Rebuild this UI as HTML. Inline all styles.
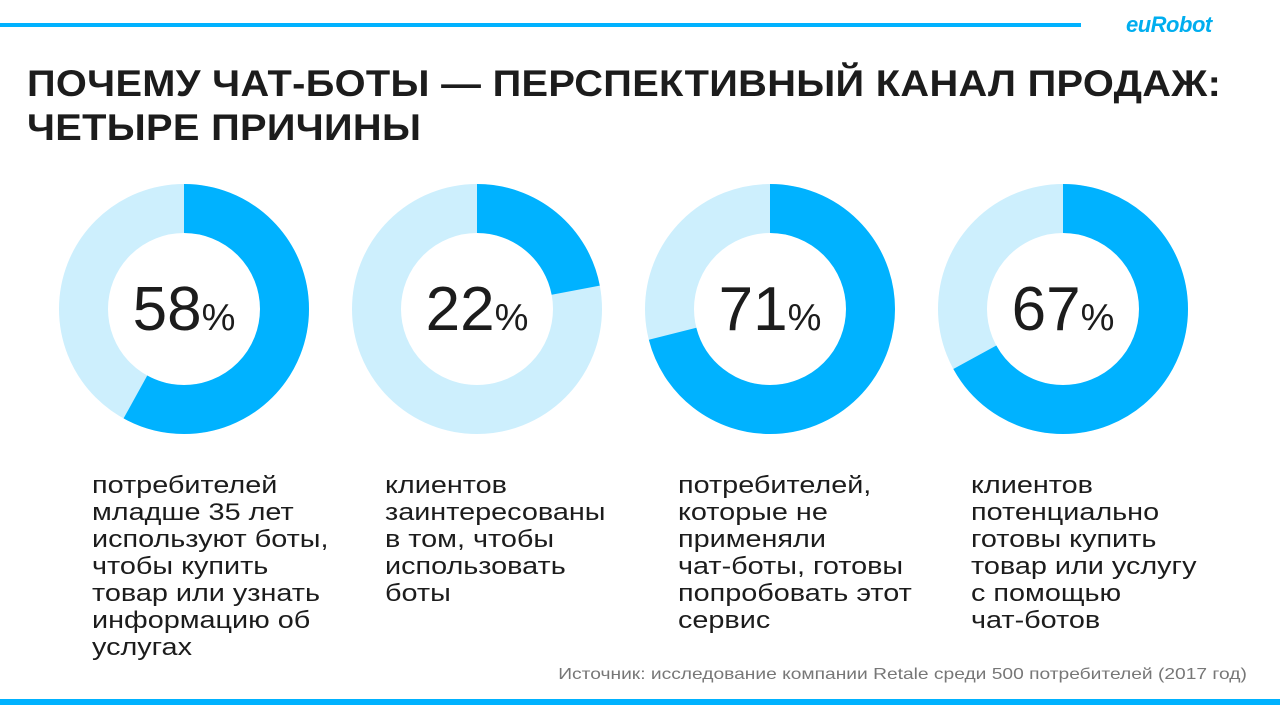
<!DOCTYPE html>
<html><head><meta charset="utf-8"><style>
body{margin:0;width:1280px;height:720px;background:#fff;position:relative;overflow:hidden;font-family:"Liberation Sans",sans-serif;color:#1c1c1c}
.bar{position:absolute;background:#00b2ff}
h1{position:absolute;left:27px;top:62px;margin:0;font-size:37px;line-height:44px;font-weight:bold;letter-spacing:0.3px;transform:scaleX(1.075);transform-origin:left top;white-space:nowrap}
.desc{position:absolute;top:472px;font-size:24px;line-height:27px;color:#1c1c1c;transform:scaleX(1.2);transform-origin:left top;white-space:nowrap}
.src{position:absolute;right:33px;top:666px;font-size:16px;color:#777;transform:scaleX(1.2);transform-origin:right top;white-space:nowrap}
.logo{position:absolute;left:1126px;top:12px;font-size:22px;font-weight:bold;color:#00aeef;font-style:italic;letter-spacing:-0.5px}
</style></head><body>
<div class="bar" style="left:0;top:23px;width:1081px;height:4px"></div>
<div class="bar" style="left:0;top:699px;width:1280px;height:6px"></div>
<div class="logo">euRobot</div>
<h1>ПОЧЕМУ ЧАТ-БОТЫ — ПЕРСПЕКТИВНЫЙ КАНАЛ ПРОДАЖ:<br>ЧЕТЫРЕ ПРИЧИНЫ</h1>
<svg width="1280" height="720" style="position:absolute;left:0;top:0" font-family="Liberation Sans, sans-serif">
<g fill="none" stroke-width="49">
<circle cx="184" cy="309" r="100.5" stroke="#cdeffd"/>
<circle cx="184" cy="309" r="100.5" stroke="#00b2ff" stroke-dasharray="366.3 1000" transform="rotate(-90 184 309)"/>
<circle cx="477" cy="309" r="100.5" stroke="#cdeffd"/>
<circle cx="477" cy="309" r="100.5" stroke="#00b2ff" stroke-dasharray="138.9 1000" transform="rotate(-90 477 309)"/>
<circle cx="770" cy="309" r="100.5" stroke="#cdeffd"/>
<circle cx="770" cy="309" r="100.5" stroke="#00b2ff" stroke-dasharray="448.4 1000" transform="rotate(-90 770 309)"/>
<circle cx="1063" cy="309" r="100.5" stroke="#cdeffd"/>
<circle cx="1063" cy="309" r="100.5" stroke="#00b2ff" stroke-dasharray="423.1 1000" transform="rotate(-90 1063 309)"/>
</g>
<g fill="#1c1c1c" text-anchor="middle">
<text x="184" y="330"><tspan font-size="62">58</tspan><tspan font-size="38">%</tspan></text>
<text x="477" y="330"><tspan font-size="62">22</tspan><tspan font-size="38">%</tspan></text>
<text x="770" y="330"><tspan font-size="62">71</tspan><tspan font-size="38">%</tspan></text>
<text x="1063" y="330"><tspan font-size="62">67</tspan><tspan font-size="38">%</tspan></text>
</g>
</svg>
<div class="desc" style="left:92px">потребителей<br>младше 35 лет<br>используют боты,<br>чтобы купить<br>товар или узнать<br>информацию об<br>услугах</div>
<div class="desc" style="left:385px">клиентов<br>заинтересованы<br>в том, чтобы<br>использовать<br>боты</div>
<div class="desc" style="left:678px">потребителей,<br>которые не<br>применяли<br>чат-боты, готовы<br>попробовать этот<br>сервис</div>
<div class="desc" style="left:971px">клиентов<br>потенциально<br>готовы купить<br>товар или услугу<br>с помощью<br>чат-ботов</div>
<div class="src">Источник: исследование компании Retale среди 500 потребителей (2017 год)</div>
</body></html>
